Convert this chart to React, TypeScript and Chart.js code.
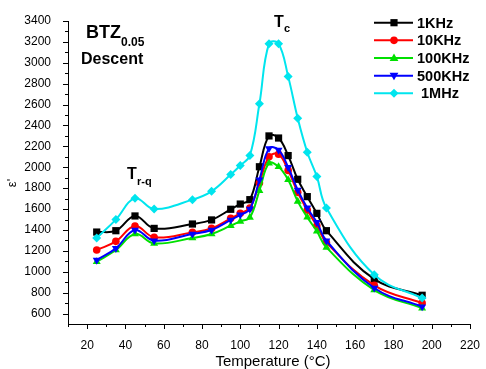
import React, { useEffect, useRef } from "react";
import { Chart, registerables } from "chart.js";

Chart.register(...registerables);

const temps = [25, 35, 45, 55, 75, 85, 95, 100, 105, 110, 115, 120, 125, 130, 135, 140, 145, 170, 195];
const k1 = [1380, 1393, 1534, 1415, 1457, 1496, 1598, 1648, 1690, 2005, 2300, 2280, 2112, 1885, 1719, 1559, 1393, 930, 775];
const k10 = [1208, 1291, 1438, 1330, 1377, 1415, 1511, 1559, 1610, 1850, 2100, 2125, 1970, 1760, 1590, 1440, 1280, 870, 700];
const k100 = [1096, 1208, 1362, 1271, 1323, 1362, 1441, 1482, 1520, 1777, 2040, 2005, 1880, 1674, 1521, 1387, 1233, 825, 652];
const k500 = [1112, 1224, 1400, 1297, 1362, 1400, 1496, 1544, 1600, 1880, 2180, 2165, 2000, 1783, 1611, 1473, 1297, 845, 665];
const m1 = [1323, 1499, 1703, 1601, 1690, 1770, 1930, 2017, 2112, 2608, 3183, 3183, 2870, 2470, 2144, 1911, 1611, 971, 748];

const seriesNames = ["1KHz", "10KHz", "100KHz", "500KHz", " 1MHz"];
const seriesColors = ["#000000", "#ff0000", "#00e000", "#0000ff", "#00e5ee"];
const seriesStyles = ["rect", "circle", "triangle", "triangleDown", "rectRot"];
const seriesValues = [k1, k10, k100, k500, m1];

const FONT = "'Liberation Sans', Arial, sans-serif";

function drawMarker(ctx: CanvasRenderingContext2D, style: string, x: number, y: number, color: string) {
  ctx.save();
  ctx.fillStyle = color;
  ctx.beginPath();
  if (style === "rect") {
    ctx.rect(x - 3.6, y - 3.6, 7.2, 7.2);
  } else if (style === "circle") {
    ctx.arc(x, y, 3.8, 0, Math.PI * 2);
  } else if (style === "triangle") {
    ctx.moveTo(x, y - 4.6);
    ctx.lineTo(x + 4.4, y + 3);
    ctx.lineTo(x - 4.4, y + 3);
    ctx.closePath();
  } else if (style === "triangleDown") {
    ctx.moveTo(x, y + 4.6);
    ctx.lineTo(x + 4.4, y - 3);
    ctx.lineTo(x - 4.4, y - 3);
    ctx.closePath();
  } else {
    ctx.moveTo(x, y - 4.5);
    ctx.lineTo(x + 4.5, y);
    ctx.lineTo(x, y + 4.5);
    ctx.lineTo(x - 4.5, y);
    ctx.closePath();
  }
  ctx.fill();
  ctx.restore();
}

const decorPlugin = {
  id: "decor",
  afterDraw(chart: any) {
    const ctx: CanvasRenderingContext2D = chart.ctx;
    const xs = chart.scales.x;
    const ys = chart.scales.y;
    const area = chart.chartArea;
    ctx.save();
    ctx.strokeStyle = "#000";
    ctx.lineWidth = 1;
    ctx.beginPath();
    ctx.moveTo(area.left + 0.5, area.top);
    ctx.lineTo(area.left + 0.5, area.bottom + 0.5);
    ctx.lineTo(area.right, area.bottom + 0.5);
    ctx.stroke();
    ctx.beginPath();
    for (let v = 10; v <= 220; v += 10) {
      const px = Math.round(xs.getPixelForValue(v)) + 0.5;
      const len = v % 20 === 0 ? 5 : 3;
      ctx.moveTo(px, area.bottom);
      ctx.lineTo(px, area.bottom + len);
    }
    for (let v = 600; v <= 3400; v += 100) {
      const py = Math.round(ys.getPixelForValue(v)) + 0.5;
      const len = v % 200 === 0 ? 5 : 3;
      ctx.moveTo(area.left, py);
      ctx.lineTo(area.left - len, py);
    }
    ctx.stroke();

    ctx.fillStyle = "#000";
    ctx.font = `15px ${FONT}`;
    ctx.textAlign = "center";
    ctx.textBaseline = "alphabetic";
    ctx.fillText("Temperature (°C)", 273, 366);
    ctx.save();
    ctx.translate(16, 183);
    ctx.rotate(-Math.PI / 2);
    ctx.font = `13px ${FONT}`;
    ctx.fillText("ε'", 0, 0);
    ctx.restore();

    ctx.textAlign = "left";
    ctx.font = `bold 18px ${FONT}`;
    ctx.fillText("BTZ", 86, 38);
    ctx.font = `bold 12px ${FONT}`;
    ctx.fillText("0.05", 121, 46);
    ctx.font = `bold 16px ${FONT}`;
    ctx.fillText("Descent", 81, 64);
    ctx.font = `bold 16px ${FONT}`;
    ctx.fillText("T", 127, 179);
    ctx.font = `bold 11px ${FONT}`;
    ctx.fillText("r-q", 137, 185);
    ctx.font = `bold 16px ${FONT}`;
    ctx.fillText("T", 274, 27);
    ctx.font = `bold 11px ${FONT}`;
    ctx.fillText("c", 284, 32);

    for (let i = 0; i < seriesNames.length; i++) {
      const y = 22.7 + i * 17.65;
      ctx.strokeStyle = seriesColors[i];
      ctx.lineWidth = 2;
      ctx.beginPath();
      ctx.moveTo(374, y);
      ctx.lineTo(413, y);
      ctx.stroke();
      drawMarker(ctx, seriesStyles[i], 394, y, seriesColors[i]);
      ctx.fillStyle = "#000";
      ctx.font = `bold 14.5px ${FONT}`;
      ctx.textBaseline = "middle";
      ctx.fillText(seriesNames[i], 417, y + 1);
    }
    ctx.restore();
  },
};

export default function App() {
  const ref = useRef<HTMLCanvasElement>(null);
  useEffect(() => {
    document.body.style.margin = "0";
    const datasets = seriesValues.map((vals, i) => {
      const style = seriesStyles[i];
      return {
        label: seriesNames[i],
        data: temps.map((t, j) => ({ x: t, y: vals[j] })),
        borderColor: seriesColors[i],
        backgroundColor: seriesColors[i],
        borderWidth: 2,
        pointStyle: style === "triangleDown" ? "triangle" : style,
        pointRotation: style === "triangleDown" ? 180 : 0,
        pointRadius: style === "rect" ? 5.1 : style === "circle" ? 3.8 : style === "rectRot" ? 4.5 : 4.6,
        pointBorderWidth: 0,
        tension: 0.4,
        order: 5 - i,
      };
    });
    const chart = new Chart(ref.current!, {
      type: "line",
      data: { datasets },
      plugins: [decorPlugin],
      options: {
        animation: false,
        responsive: false,
        layout: { padding: { top: 21, right: 10, left: 0, bottom: 0 } },
        plugins: { legend: { display: false }, tooltip: { enabled: false } },
        scales: {
          x: {
            type: "linear",
            min: 10,
            max: 220,
            grid: { display: false },
            border: { display: false },
            ticks: {
              stepSize: 10,
              autoSkip: false,
              maxRotation: 0,
              padding: 6,
              color: "#000",
              font: { family: FONT, size: 12 },
              callback: (v: any) => (v % 20 === 0 && v >= 20 ? String(v) : ""),
            },
            afterFit: (s: any) => {
              s.height = 45;
            },
          },
          y: {
            min: 500,
            max: 3400,
            grid: { display: false },
            border: { display: false },
            ticks: {
              stepSize: 100,
              autoSkip: false,
              padding: 9,
              color: "#000",
              font: { family: FONT, size: 12 },
              callback: (v: any) => (v % 200 === 0 && v >= 600 ? String(v) : ""),
            },
            afterFit: (s: any) => {
              s.width = 68;
            },
          },
        },
      },
    });
    return () => chart.destroy();
  }, []);
  return (
    <div style={{ position: "absolute", left: 0, top: 0, width: 486, height: 369, background: "#fff" }}>
      <canvas ref={ref} width={486} height={369} style={{ width: 486, height: 369 }} />
    </div>
  );
}
